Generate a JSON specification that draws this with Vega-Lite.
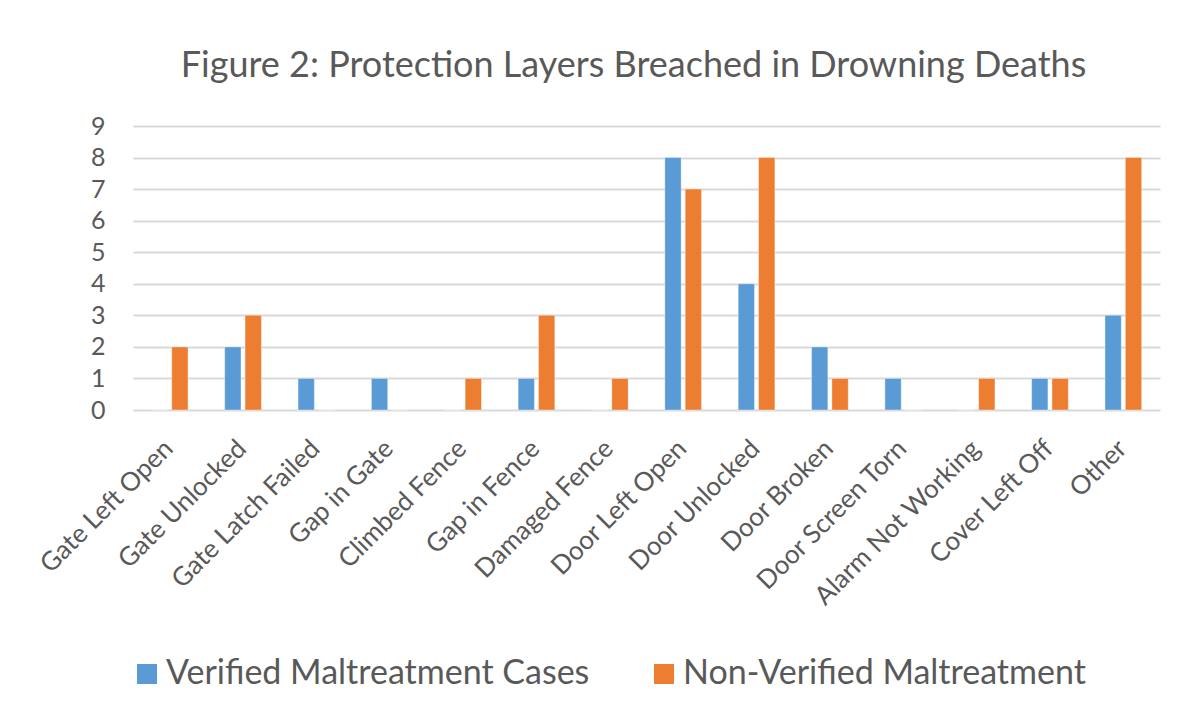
{
  "$schema": "https://vega.github.io/schema/vega-lite/v6.json",
  "width": 1027,
  "height": 284,
  "autosize": {"type": "none"},
  "padding": {"left": 133, "top": 126, "right": 30, "bottom": 312},
  "background": "white",
  "title": {
    "text": "Figure 2: Protection Layers Breached in Drowning Deaths",
    "font": "Lato",
    "fontSize": 36,
    "fontWeight": "normal",
    "color": "#595959",
    "offset": 29,
    "dx": -13
  },
  "data": {
    "values": [
      {"category": "Gate Left Open", "series": "Verified Maltreatment Cases", "value": 0},
      {"category": "Gate Left Open", "series": "Non-Verified Maltreatment", "value": 2},
      {"category": "Gate Unlocked", "series": "Verified Maltreatment Cases", "value": 2},
      {"category": "Gate Unlocked", "series": "Non-Verified Maltreatment", "value": 3},
      {"category": "Gate Latch Failed", "series": "Verified Maltreatment Cases", "value": 1},
      {"category": "Gate Latch Failed", "series": "Non-Verified Maltreatment", "value": 0},
      {"category": "Gap in Gate", "series": "Verified Maltreatment Cases", "value": 1},
      {"category": "Gap in Gate", "series": "Non-Verified Maltreatment", "value": 0},
      {"category": "Climbed Fence", "series": "Verified Maltreatment Cases", "value": 0},
      {"category": "Climbed Fence", "series": "Non-Verified Maltreatment", "value": 1},
      {"category": "Gap in Fence", "series": "Verified Maltreatment Cases", "value": 1},
      {"category": "Gap in Fence", "series": "Non-Verified Maltreatment", "value": 3},
      {"category": "Damaged Fence", "series": "Verified Maltreatment Cases", "value": 0},
      {"category": "Damaged Fence", "series": "Non-Verified Maltreatment", "value": 1},
      {"category": "Door Left Open", "series": "Verified Maltreatment Cases", "value": 8},
      {"category": "Door Left Open", "series": "Non-Verified Maltreatment", "value": 7},
      {"category": "Door Unlocked", "series": "Verified Maltreatment Cases", "value": 4},
      {"category": "Door Unlocked", "series": "Non-Verified Maltreatment", "value": 8},
      {"category": "Door Broken", "series": "Verified Maltreatment Cases", "value": 2},
      {"category": "Door Broken", "series": "Non-Verified Maltreatment", "value": 1},
      {"category": "Door Screen Torn", "series": "Verified Maltreatment Cases", "value": 1},
      {"category": "Door Screen Torn", "series": "Non-Verified Maltreatment", "value": 0},
      {"category": "Alarm Not Working", "series": "Verified Maltreatment Cases", "value": 0},
      {"category": "Alarm Not Working", "series": "Non-Verified Maltreatment", "value": 1},
      {"category": "Cover Left Off", "series": "Verified Maltreatment Cases", "value": 1},
      {"category": "Cover Left Off", "series": "Non-Verified Maltreatment", "value": 1},
      {"category": "Other", "series": "Verified Maltreatment Cases", "value": 3},
      {"category": "Other", "series": "Non-Verified Maltreatment", "value": 8}
    ]
  },
  "mark": {"type": "bar", "stroke": "white", "strokeWidth": 0.6, "strokeOpacity": 0.6},
  "encoding": {
    "x": {
      "field": "category",
      "type": "nominal",
      "sort": null,
      "title": null,
      "scale": {"paddingInner": 0.5, "paddingOuter": 0.25},
      "axis": {
        "labelAngle": -45,
        "labelFont": "Lato",
        "labelFontSize": 26,
        "labelColor": "#595959",
        "labelPadding": 25,
        "labelOffset": -10,
        "labelLimit": 0,
        "ticks": false,
        "domain": false,
        "grid": false,
        "labelOverlap": false
      }
    },
    "xOffset": {
      "field": "series",
      "type": "nominal",
      "sort": ["Verified Maltreatment Cases", "Non-Verified Maltreatment"],
      "scale": {"paddingInner": 0.2}
    },
    "y": {
      "field": "value",
      "type": "quantitative",
      "title": null,
      "scale": {"domain": [0, 9], "nice": false},
      "axis": {
        "values": [0, 1, 2, 3, 4, 5, 6, 7, 8, 9],
        "labelFont": "Lato",
        "labelFontSize": 25,
        "labelColor": "#595959",
        "labelPadding": 28,
        "ticks": false,
        "domain": false,
        "grid": true,
        "gridColor": "#D9D9D9",
        "gridWidth": 2
      }
    },
    "color": {
      "field": "series",
      "type": "nominal",
      "sort": ["Verified Maltreatment Cases", "Non-Verified Maltreatment"],
      "scale": {
        "domain": ["Verified Maltreatment Cases", "Non-Verified Maltreatment"],
        "range": ["#5B9BD5", "#ED7D31"]
      },
      "legend": {
        "title": null,
        "orient": "none",
        "legendX": -3,
        "legendY": 531,
        "direction": "horizontal",
        "symbolType": "square",
        "symbolSize": 400,
        "symbolStrokeWidth": 0,
        "labelFont": "Lato",
        "labelFontSize": 34,
        "labelColor": "#595959",
        "labelLimit": 700,
        "columnPadding": 57,
        "labelOffset": 2
      }
    }
  },
  "config": {"view": {"stroke": null}}
}
